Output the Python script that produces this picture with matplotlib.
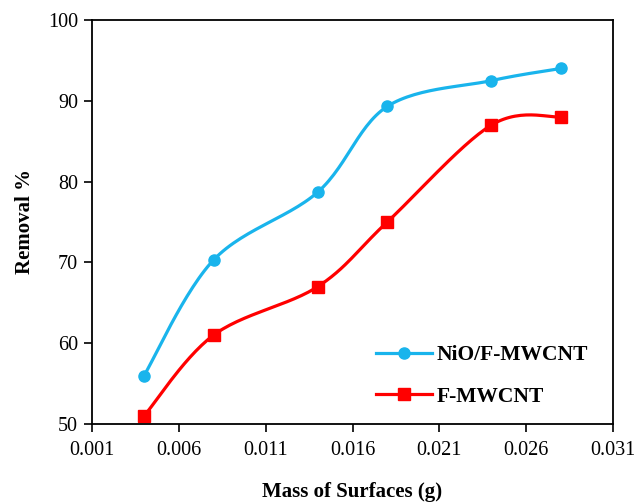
import numpy as np
import matplotlib.pyplot as plt

mass = [0.004, 0.008, 0.014, 0.018, 0.024, 0.028]
nio_fmwcnt = [56.0, 70.3, 78.7, 89.3, 92.5, 94.0]
fmwcnt = [51.0, 61.0, 67.0, 75.0, 87.0, 88.0]


def smooth(x, y, n=30):
    # Catmull-Rom style curve through the points, like Excel's smoothed line
    x = np.asarray(x, float)
    y = np.asarray(y, float)
    px = np.concatenate([[x[0]], x, [x[-1]]])
    py = np.concatenate([[y[0]], y, [y[-1]]])
    xs, ys = [], []
    t = np.linspace(0, 1, n)
    for i in range(1, len(px) - 2):
        p0, p1, p2, p3 = [np.array([px[j], py[j]]) for j in (i - 1, i, i + 1, i + 2)]
        c1 = p1 + (p2 - p0) / 6
        c2 = p2 - (p3 - p1) / 6
        b = ((1 - t) ** 3)[:, None] * p1 + (3 * (1 - t) ** 2 * t)[:, None] * c1 \
            + (3 * (1 - t) * t ** 2)[:, None] * c2 + (t ** 3)[:, None] * p2
        xs.extend(b[:, 0])
        ys.extend(b[:, 1])
    return xs, ys


plt.rcParams['font.family'] = 'Liberation Serif'

fig = plt.figure(figsize=(6.34, 5.03), dpi=100)
ax = fig.add_axes([92 / 634, 1 - 424 / 503, 521 / 634, 404 / 503])

blue = '#19b4ec'
red = '#ff0000'

sx, sy = smooth(mass, nio_fmwcnt)
ax.plot(sx, sy, color=blue, lw=2.3)
ax.plot(mass, nio_fmwcnt, 'o', color=blue, ms=8)
ax.plot([], [], '-o', color=blue, lw=2.3, ms=8, label='NiO/F-MWCNT')

sx, sy = smooth(mass, fmwcnt)
ax.plot(sx, sy, color=red, lw=2.3)
ax.plot(mass, fmwcnt, 's', color=red, ms=9)
ax.plot([], [], '-s', color=red, lw=2.3, ms=9, label='F-MWCNT')

ax.set_xlim(0.001, 0.031)
ax.set_ylim(50, 100)
ax.set_xticks([0.001, 0.006, 0.011, 0.016, 0.021, 0.026, 0.031])
ax.set_xticklabels(['0.001', '0.006', '0.011', '0.016', '0.021', '0.026', '0.031'])
ax.set_yticks([50, 60, 70, 80, 90, 100])
ax.tick_params(direction='out', length=6, width=1.2, labelsize=14.5, colors='black')
ax.tick_params(axis='x', pad=6)
ax.tick_params(axis='y', pad=4)
for s in ax.spines.values():
    s.set_linewidth(1.3)
    s.set_color('black')

ax.set_xlabel('Mass of Surfaces (g)', fontsize=15, fontweight='bold', labelpad=16)
ax.set_ylabel('Removal %', fontsize=15, fontweight='bold', labelpad=9)

leg = ax.legend(loc='lower right', bbox_to_anchor=(0.99, -0.005), frameon=False,
                prop={'weight': 'bold', 'size': 15.5}, handlelength=2.6,
                labelspacing=1.0, handletextpad=0.25)

fig.savefig('out.png', dpi=100)
